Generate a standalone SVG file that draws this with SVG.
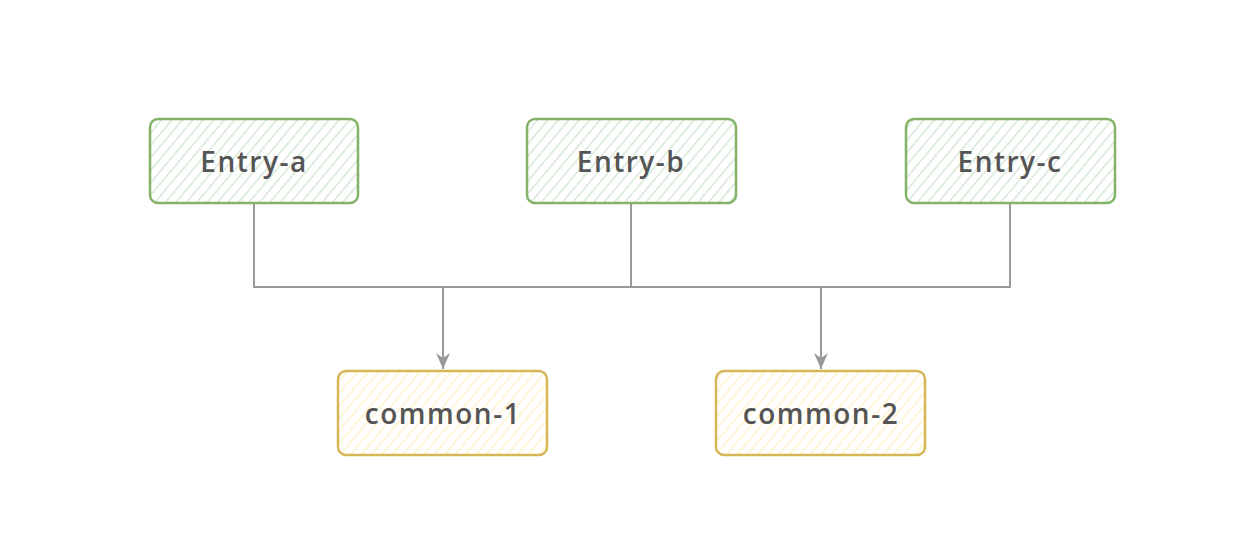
<svg xmlns="http://www.w3.org/2000/svg" width="1256" height="554" viewBox="0 0 1256 554">
<style>
.g rect{fill:url(#hg);stroke:#82b366;stroke-width:2.5}
.y rect{fill:url(#hy);stroke:#d6b656;stroke-width:2.5}
text{font-family:"Open Sans","DejaVu Sans",sans-serif;font-size:28px;font-weight:600;letter-spacing:1.5px;fill:#555;text-anchor:middle;dominant-baseline:central}
.c{fill:none;stroke:#999;stroke-width:2}
</style>
<defs>
<pattern id="hg" patternUnits="userSpaceOnUse" width="8" height="8" patternTransform="rotate(40)">
<rect width="8" height="8" fill="#fff"/>
<line x1="0" y1="0" x2="0" y2="8" stroke="#d5e8d4" stroke-width="3"/>
</pattern>
<pattern id="hy" patternUnits="userSpaceOnUse" width="8" height="8" patternTransform="rotate(40)">
<rect width="8" height="8" fill="#fff"/>
<line x1="0" y1="0" x2="0" y2="8" stroke="#fff2cc" stroke-width="3"/>
</pattern>
<marker id="a" markerWidth="18" markerHeight="18" refX="16" refY="8" orient="auto" markerUnits="userSpaceOnUse">
<path d="M0,1 L16,8 L0,15 L5,8 Z" fill="#999"/>
</marker>
</defs>
<g id="connectors">
<path class="c" d="M254,204 V287 H1010 V204"/>
<path class="c" d="M631,204 V287"/>
<path class="c" d="M443,287 V369" marker-end="url(#a)"/>
<path class="c" d="M821,287 V369" marker-end="url(#a)"/>
</g>
<g id="entry-a" class="g"><rect x="150" y="119" width="208" height="84" rx="8"/><text x="254" y="161">Entry-a</text></g>
<g id="entry-b" class="g"><rect x="527" y="119" width="209" height="84" rx="8"/><text x="631" y="161">Entry-b</text></g>
<g id="entry-c" class="g"><rect x="906" y="119" width="209" height="84" rx="8"/><text x="1010" y="161">Entry-c</text></g>
<g id="common-1" class="y"><rect x="338" y="371" width="209" height="84" rx="8"/><text x="443" y="413">common-1</text></g>
<g id="common-2" class="y"><rect x="716" y="371" width="209" height="84" rx="8"/><text x="821" y="413">common-2</text></g>
</svg>
